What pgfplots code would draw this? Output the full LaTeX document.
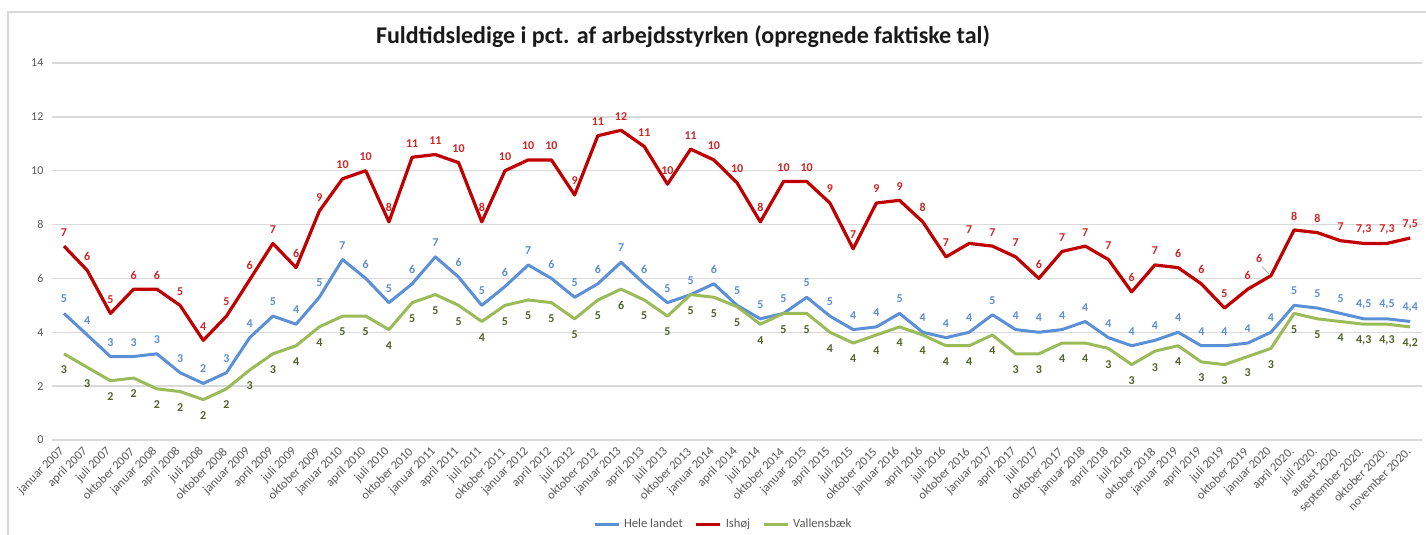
\documentclass[border=0pt]{standalone}
\usepackage{fontspec}
\setmainfont{Carlito}
\usepackage{pgfplots}
\pgfplotsset{compat=1.18}
\usepackage{pgfplotstable}

\definecolor{cblue}{HTML}{5B8FD6}
\definecolor{cred}{HTML}{C00000}
\definecolor{cgreen}{HTML}{9BBB59}
\definecolor{lblue}{HTML}{5B8FD6}
\definecolor{lred}{HTML}{D02525}
\definecolor{lgreen}{HTML}{4F6228}
\definecolor{tickgray}{HTML}{595959}
\definecolor{gridgray}{HTML}{D9D9D9}

\pgfplotstableread{
x y lab
0 4.7 5
1 3.9 4
2 3.1 3
3 3.1 3
4 3.2 3
5 2.5 3
6 2.1 2
7 2.5 3
8 3.8 4
9 4.6 5
10 4.3 4
11 5.3 5
12 6.7 7
13 6.0 6
14 5.1 5
15 5.8 6
16 6.8 7
17 6.05 6
18 5.0 5
19 5.7 6
20 6.5 7
21 6.0 6
22 5.3 5
23 5.8 6
24 6.6 7
25 5.8 6
26 5.1 5
27 5.4 5
28 5.8 6
29 5.0 5
30 4.5 5
31 4.7 5
32 5.3 5
33 4.6 5
34 4.1 4
35 4.2 4
36 4.7 5
37 4.0 4
38 3.8 4
39 4.0 4
40 4.65 5
41 4.1 4
42 4.0 4
43 4.1 4
44 4.4 4
45 3.8 4
46 3.5 4
47 3.7 4
48 4.0 4
49 3.5 4
50 3.5 4
51 3.6 4
52 4.0 4
53 5.0 5
54 4.9 5
55 4.7 5
56 4.5 4,5
57 4.5 4,5
58 4.4 4,4
}\hele

\pgfplotstableread{
x y lab
0 7.2 7
1 6.3 6
2 4.7 5
3 5.6 6
4 5.6 6
5 5.0 5
6 3.7 4
7 4.6 5
8 5.95 6
9 7.3 7
10 6.4 6
11 8.5 9
12 9.7 10
13 10.0 10
14 8.1 8
15 10.5 11
16 10.6 11
17 10.3 10
18 8.1 8
19 10.0 10
20 10.4 10
21 10.4 10
22 9.1 9
23 11.3 11
24 11.5 12
25 10.9 11
26 9.5 10
27 10.8 11
28 10.4 10
29 9.55 10
30 8.1 8
31 9.6 10
32 9.6 10
33 8.8 9
34 7.1 7
35 8.8 9
36 8.9 9
37 8.1 8
38 6.8 7
39 7.3 7
40 7.2 7
41 6.8 7
42 6.0 6
43 7.0 7
44 7.2 7
45 6.7 7
46 5.5 6
47 6.5 7
48 6.4 6
49 5.8 6
50 4.9 5
51 5.6 6
52 6.1 {}
53 7.8 8
54 7.7 8
55 7.4 7
56 7.3 7,3
57 7.3 7,3
58 7.5 7,5
}\ishoj

\pgfplotstableread{
x y lab
0 3.2 3
1 2.7 3
2 2.2 2
3 2.3 2
4 1.9 2
5 1.8 2
6 1.5 2
7 1.9 2
8 2.6 3
9 3.2 3
10 3.5 4
11 4.2 4
12 4.6 5
13 4.6 5
14 4.1 4
15 5.1 5
16 5.4 5
17 5.0 5
18 4.4 4
19 5.0 5
20 5.2 5
21 5.1 5
22 4.5 5
23 5.2 5
24 5.6 6
25 5.2 5
26 4.6 5
27 5.4 5
28 5.3 5
29 4.95 5
30 4.3 4
31 4.7 5
32 4.7 5
33 4.0 4
34 3.6 4
35 3.9 4
36 4.2 4
37 3.9 4
38 3.5 4
39 3.5 4
40 3.9 4
41 3.2 3
42 3.2 3
43 3.6 4
44 3.6 4
45 3.4 3
46 2.8 3
47 3.3 3
48 3.5 4
49 2.9 3
50 2.8 3
51 3.1 3
52 3.4 3
53 4.7 5
54 4.5 5
55 4.4 4
56 4.3 4,3
57 4.3 4,3
58 4.2 4,2
}\vallensbaek

\begin{document}
\begin{tikzpicture}
\useasboundingbox (0,0) rectangle (713pt,267.5pt);
\draw[gridgray, line width=0.6pt] (4pt,0) -- (4pt,261.5pt) -- (713pt,261.5pt);
\node[font=\bfseries\fontsize{12}{14}\selectfont, text=black!90] at (341.5pt,249pt) {Fuldtidsledige i pct. af arbejdsstyrken (opregnede faktiske tal)};
\begin{axis}[
  at={(26.2pt,47.5pt)}, anchor=south west,
  scale only axis, width=684.7pt, height=188.5pt,
  xmin=-0.5, xmax=58.5, ymin=0, ymax=14,
  clip=false,
  axis line style={draw=none},
  major tick length=0pt,
  ytick={0,2,...,14},
  ymajorgrids, grid style={gridgray, line width=0.75pt},
  /pgf/number format/assume math mode=true,
  yticklabel style={font=\fontsize{6}{7}\selectfont, text=tickgray, xshift=-1pt},
  xtick={0,...,58},
  xticklabels={januar 2007, april 2007, juli 2007, oktober 2007,
    januar 2008, april 2008, juli 2008, oktober 2008,
    januar 2009, april 2009, juli 2009, oktober 2009,
    januar 2010, april 2010, juli 2010, oktober 2010,
    januar 2011, april 2011, juli 2011, oktober 2011,
    januar 2012, april 2012, juli 2012, oktober 2012,
    januar 2013, april 2013, juli 2013, oktober 2013,
    januar 2014, april 2014, juli 2014, oktober 2014,
    januar 2015, april 2015, juli 2015, oktober 2015,
    januar 2016, april 2016, juli 2016, oktober 2016,
    januar 2017, april 2017, juli 2017, oktober 2017,
    januar 2018, april 2018, juli 2018, oktober 2018,
    januar 2019, april 2019, juli 2019, oktober 2019,
    januar 2020, april 2020., juli 2020., august 2020.,
    september 2020., oktober 2020., november 2020.},
  xticklabel shift=4pt,
  xticklabel style={font=\fontsize{6.2}{7}\selectfont, text=tickgray, rotate=45, anchor=east, inner sep=1pt},
  point meta=explicit symbolic,
  legend columns=3,
  legend style={at={(0.4906,-0.225)}, anchor=center, draw=none, fill=none,
    font=\fontsize{6.3}{7}\selectfont, text=tickgray,
    /tikz/every even column/.append style={column sep=4pt}},
  legend image code/.code={\draw[#1, line width=1.5pt] (0pt,0pt) -- (12pt,0pt);},
]
\addplot[cblue, line width=1.5pt, line join=round, nodes near coords,
  nodes near coords style={anchor=center, yshift=7.2pt, font=\bfseries\fontsize{6}{7}\selectfont, text=lblue}]
  table[x=x, y=y, meta=lab] {\hele};
\addlegendentry{Hele landet}
\addplot[cred, line width=1.6pt, line join=round, nodes near coords,
  nodes near coords style={anchor=center, yshift=7pt, font=\bfseries\fontsize{6}{7}\selectfont, text=lred}]
  table[x=x, y=y, meta=lab] {\ishoj};
\addlegendentry{Ishøj}
\addplot[cgreen, line width=1.5pt, line join=round, nodes near coords,
  nodes near coords style={anchor=center, yshift=-8pt, font=\bfseries\fontsize{6}{7}\selectfont, text=lgreen}]
  table[x=x, y=y, meta=lab] {\vallensbaek};
\addlegendentry{Vallensbæk}
\addplot[draw=none, forget plot, nodes near coords,
  nodes near coords style={anchor=center, xshift=-5.9pt, yshift=8.5pt, font=\bfseries\fontsize{6}{7}\selectfont, text=lred}]
  coordinates {(52,6.1) [6]};
\draw[black!30, line width=0.4pt] ([xshift=-4.5pt,yshift=4.5pt]axis cs:52,6.1) -- ([xshift=-0.6pt,yshift=0.6pt]axis cs:52,6.1);
\end{axis}
\end{tikzpicture}
\end{document}
